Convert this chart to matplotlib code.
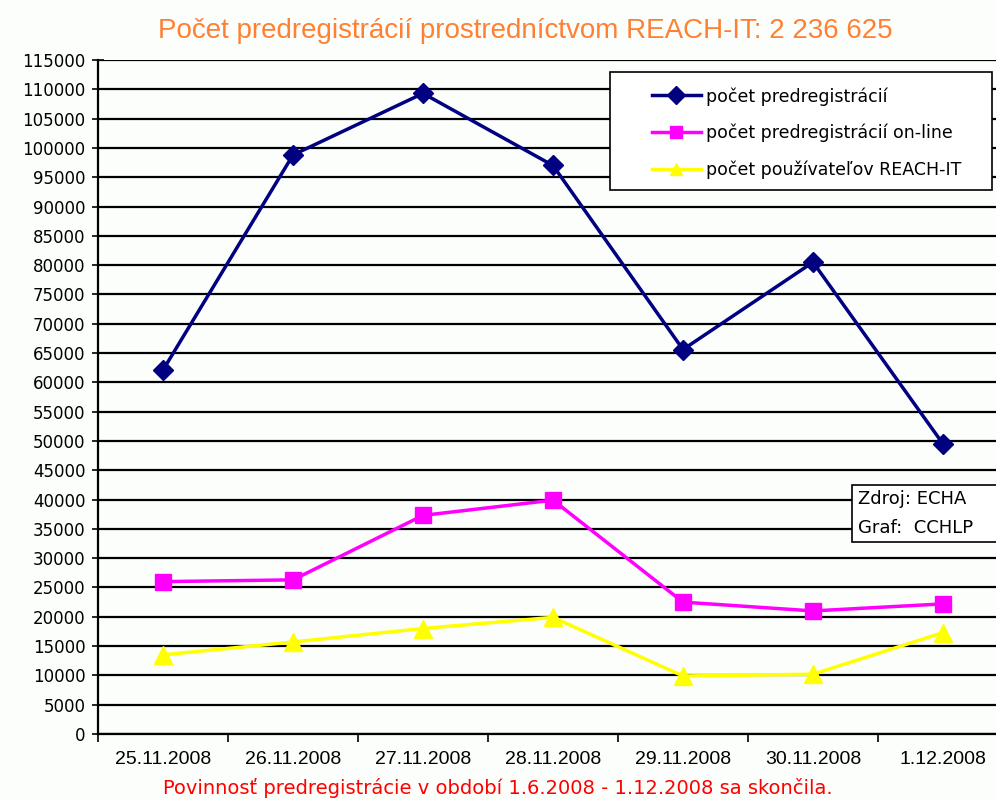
import matplotlib
matplotlib.use("Agg")
import matplotlib.pyplot as plt
from matplotlib.patches import Rectangle
import numpy as np

dates = ["25.11.2008", "26.11.2008", "27.11.2008", "28.11.2008", "29.11.2008", "30.11.2008", "1.12.2008"]
predreg = [62100, 98800, 109300, 97000, 65600, 80500, 49500]
predreg_online = [26000, 26300, 37300, 39900, 22500, 21000, 22200]
users = [13500, 15700, 18000, 19900, 9900, 10200, 17300]
yticks = list(range(0, 115001, 5000))

title = "Počet predregistrácií prostredníctvom REACH-IT: 2 236 625"
footer = "Povinnosť predregistrácie v období 1.6.2008 - 1.12.2008 sa skončila."

plt.rcParams['font.family'] = ['Liberation Sans', 'DejaVu Sans']

fig = plt.figure(figsize=(9.96, 8.0), dpi=100)
fig.patch.set_facecolor('#FCFEFC')
W, H = 996, 800
ax = fig.add_axes([98 / W, (H - 734) / H, 910 / W, 674 / H])
ax.set_facecolor('#FCFEFC')

x = np.arange(len(dates))
ax.plot(x, predreg, color='#000080', lw=2.5, marker='D', ms=10, label='počet predregistrácií', zorder=5)
ax.plot(x, predreg_online, color='#FF00FF', lw=2.5, marker='s', ms=12, label='počet predregistrácií on-line', zorder=5)
ax.plot(x, users, color='#FFFF00', lw=2.5, marker='^', ms=13, label='počet používateľov REACH-IT', zorder=5)

ax.set_xlim(-0.5, 6.5)
ax.set_ylim(0, 115000)
ax.set_yticks(yticks)
ax.set_yticklabels([str(v) for v in yticks], fontsize=12, family='DejaVu Sans')
ax.yaxis.grid(True, color='#000000', lw=1.6)
ax.set_axisbelow(True)
ax.tick_params(axis='y', direction='inout', length=8, width=1.2, pad=5)

ax.set_xticks(np.arange(-0.5, 6.0, 1.0))
ax.set_xticklabels([])
ax.tick_params(axis='x', which='major', direction='out', length=6, width=1.2)
ax.set_xticks(x, minor=True)
ax.set_xticklabels(dates, minor=True, fontsize=14)
ax.tick_params(axis='x', which='minor', length=0, pad=12)

for s in ['top', 'right']:
    ax.spines[s].set_visible(False)
ax.spines['left'].set_linewidth(1.6)
ax.spines['bottom'].set_linewidth(1.6)

# legend box
ax.add_patch(Rectangle((610 / W, 1 - 190 / H), (992 - 610) / W, 118 / H, transform=fig.transFigure,
                       fc='white', ec='black', lw=1.2, zorder=10, clip_on=False))
leg = ax.legend(loc='upper left', bbox_to_anchor=(652 / W, 1 - 87 / H), bbox_transform=fig.transFigure,
                frameon=False, prop={'family': 'DejaVu Sans', 'size': 12.5}, handlelength=2.8,
                labelspacing=1.05, borderpad=0, borderaxespad=0, handletextpad=0.3)
leg.set_zorder(11)
for h in leg.legend_handles:
    h.set_markersize(9)

# source box
ax.add_patch(Rectangle((852 / W, 1 - 542 / H), (1000 - 852) / W, 57 / H, transform=fig.transFigure,
                       fc='white', ec='black', lw=1.2, zorder=10, clip_on=False))
fig.text(858 / W, 1 - 499 / H, "Zdroj: ECHA", fontsize=13, family='DejaVu Sans', va='center', ha='left', zorder=11)
fig.text(858 / W, 1 - 528 / H, "Graf:  CCHLP", fontsize=13, family='DejaVu Sans', va='center', ha='left', zorder=11)

fig.text(0.527, 1 - 31 / H, title, color='#FF8033', fontsize=20, ha='center', va='center')
fig.text(0.5, 1 - 788 / H, footer, color='#FF0000', fontsize=14, family='DejaVu Sans', ha='center', va='center')

fig.savefig('out.png', dpi=100, facecolor=fig.get_facecolor())
